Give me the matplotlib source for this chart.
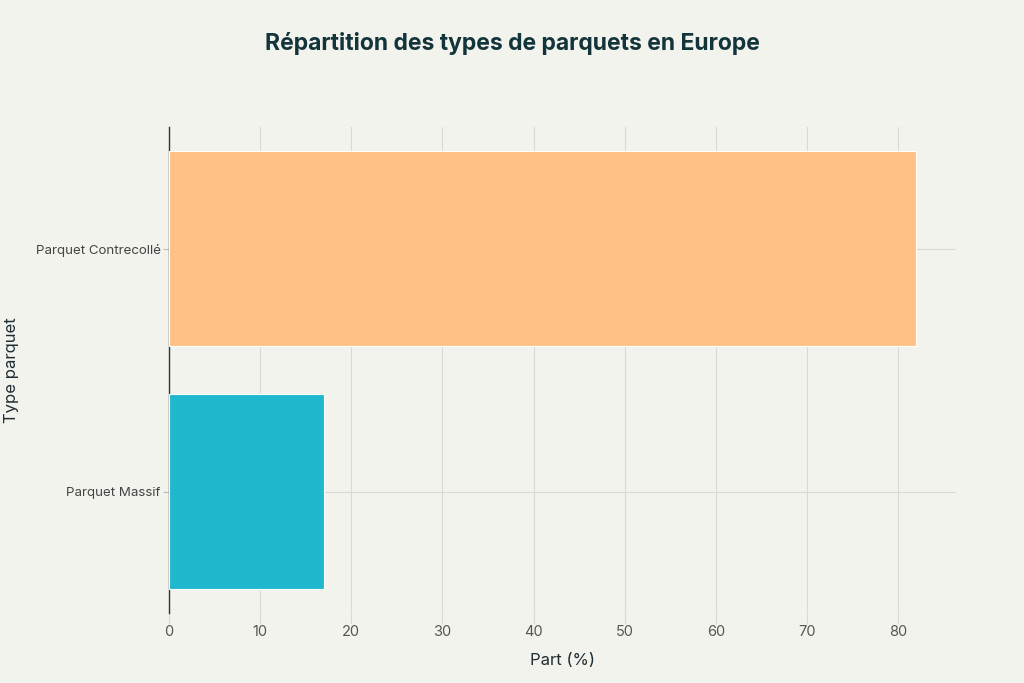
import matplotlib
matplotlib.use("Agg")
import matplotlib.pyplot as plt

categories = ["Parquet Massif", "Parquet Contrecollé"]
values = [17, 82]
colors = ["#1FB8CD", "#FFC185"]
xticks = [0, 10, 20, 30, 40, 50, 60, 70, 80]

plt.rcParams['font.family'] = ['Inter', 'DejaVu Sans']
bg = "#F3F3EE"

fig = plt.figure(figsize=(10.24, 6.83), dpi=100, facecolor=bg)
ax = fig.add_axes([0.165, 0.1025, 0.769, 0.7115], facecolor=bg)

ax.barh(categories, values, height=0.8, color=colors, edgecolor="white", linewidth=0.8, zorder=3)

ax.set_xlim(0, 86.4)
ax.set_ylim(-0.5, 1.5)
ax.set_xticks(xticks)
ax.grid(True, axis="both", color="#D9D9D6", linewidth=0.8, zorder=0)

for s in ["top", "right", "bottom"]:
    ax.spines[s].set_visible(False)
ax.spines["left"].set_color("#333333")
ax.spines["left"].set_linewidth(1.0)

ax.tick_params(axis="x", length=8, color="#D9D9D6", labelsize=10.5, labelcolor="#555555", pad=1)
ax.tick_params(axis="y", length=4, color="#BBBBBB", labelsize=9.6, labelcolor="#444444", pad=2)

ax.set_xlabel("Part (%)", fontsize=12, color="#1F2D33", labelpad=10)
ax.set_ylabel("Type parquet", fontsize=12, color="#1F2D33")
ax.yaxis.set_label_coords(-0.19, 0.5)

fig.text(0.5, 0.937, "Répartition des types de parquets en Europe", ha="center", va="center",
         fontsize=16.5, fontweight="bold", color="#13343B")

fig.savefig("out.png", dpi=100, facecolor=bg)
